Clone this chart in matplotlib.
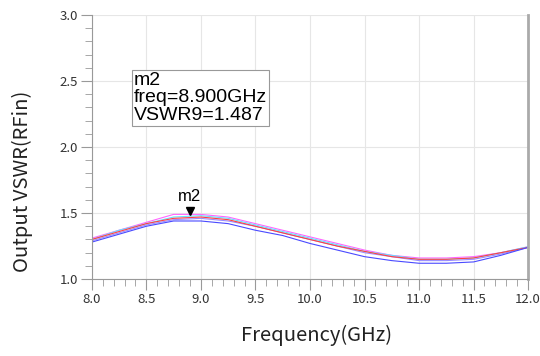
import numpy as np
import matplotlib.pyplot as plt
from matplotlib.ticker import MultipleLocator

# Frequency sweep (GHz) and VSWR traces
freq = [8.0, 8.25, 8.5, 8.75, 9.0, 9.25, 9.5, 9.75, 10.0,
        10.25, 10.5, 10.75, 11.0, 11.25, 11.5, 11.75, 12.0]
vswr_magenta = [1.31, 1.37, 1.43, 1.49, 1.49, 1.47, 1.42, 1.37, 1.32,
                1.27, 1.22, 1.18, 1.16, 1.16, 1.17, 1.20, 1.245]
vswr_cyan = [1.30, 1.37, 1.42, 1.47, 1.48, 1.46, 1.41, 1.36, 1.31,
             1.26, 1.21, 1.18, 1.15, 1.15, 1.16, 1.20, 1.245]
vswr_red = [1.30, 1.36, 1.42, 1.46, 1.47, 1.45, 1.40, 1.35, 1.30,
            1.25, 1.21, 1.17, 1.15, 1.15, 1.16, 1.20, 1.24]
vswr_violet = [1.29, 1.35, 1.41, 1.45, 1.46, 1.44, 1.40, 1.35, 1.30,
               1.25, 1.20, 1.17, 1.14, 1.14, 1.15, 1.19, 1.24]
vswr_blue = [1.28, 1.34, 1.40, 1.44, 1.44, 1.42, 1.37, 1.33, 1.27,
             1.22, 1.17, 1.14, 1.12, 1.12, 1.13, 1.18, 1.24]

series = [vswr_violet, vswr_magenta, vswr_cyan, vswr_red, vswr_blue]
colors = ['#9a8cff', '#ff66ff', '#66e0ff', '#ff4040', '#4a4aff']

marker_freq = 8.9
marker_val = 1.487

plt.rcParams['font.family'] = ['Noto Sans CJK SC', 'DejaVu Sans']

fig = plt.figure(figsize=(5.4, 3.56), dpi=100)
ax = fig.add_axes([0.170, 0.216, 0.808, 0.742])

for vals, c in zip(series, colors):
    ax.plot(freq, vals, color=c, lw=0.8)

ax.set_xlim(8.0, 12.0)
ax.set_ylim(1.0, 3.0)
ax.xaxis.set_major_locator(MultipleLocator(0.5))
ax.xaxis.set_minor_locator(MultipleLocator(0.1))
ax.yaxis.set_major_locator(MultipleLocator(0.5))
ax.yaxis.set_minor_locator(MultipleLocator(0.1))
ax.xaxis.set_major_formatter('{x:.1f}')
ax.yaxis.set_major_formatter('{x:.1f}')

ax.grid(True, which='major', color='#e6e6e6', lw=0.8)
ax.set_axisbelow(True)
ax.spines['top'].set_visible(False)
ax.spines['left'].set_color('#999999')
ax.spines['bottom'].set_color('#999999')
ax.spines['right'].set_color('#aaaaaa')
ax.spines['right'].set_linewidth(2)
ax.tick_params(which='major', length=8, color='#999999', labelsize=9.5,
               labelcolor='#333333', pad=2)
ax.tick_params(which='minor', length=5, color='#999999')

ax.set_xlabel('Frequency(GHz)', fontsize=14.5, color='#222222')
ax.set_ylabel('Output VSWR(RFin)', fontsize=14.5, color='#222222')
ax.xaxis.set_label_coords(0.514, -0.212)
ax.yaxis.set_label_coords(-0.158, 0.371)
ax.xaxis.label.set_va('center')
ax.yaxis.label.set_va('center')

# marker m2
ax.plot(marker_freq, marker_val + 0.03, marker='v', color='black', ms=6)
ax.text(marker_freq, marker_val + 0.08, 'm2', ha='center', va='bottom',
        fontsize=12, family='Liberation Sans')

ax.text(0.097, 0.785, 'm2\nfreq=%.3fGHz\nVSWR9=%.3f' % (marker_freq, marker_val),
        transform=ax.transAxes, ha='left', va='top', fontsize=14,
        linespacing=1.05, family='Liberation Sans',
        bbox=dict(boxstyle='square,pad=0.1', fc='white', ec='#999999', lw=0.8))

fig.savefig('out.png', dpi=100)
